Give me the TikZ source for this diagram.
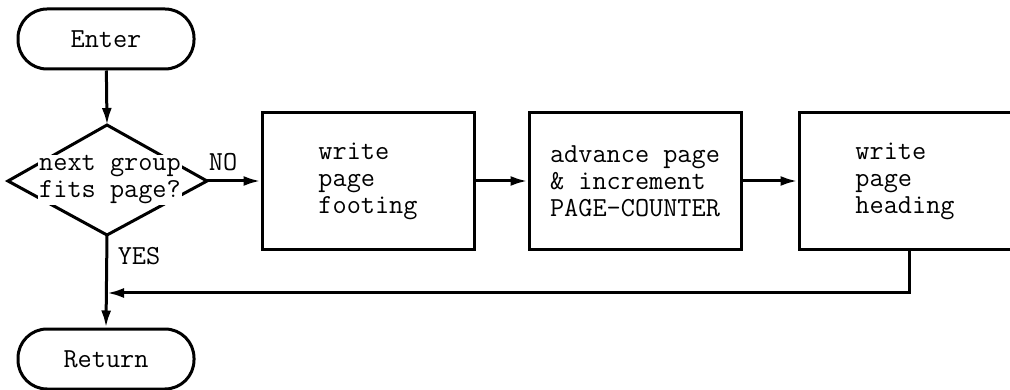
\documentclass[tikz,border=0pt]{standalone}
\usetikzlibrary{arrows.meta}

\tikzset{
  flow/.style={line width=3pt, -{Latex[length=17pt,width=10pt]}},
  terminal/.style={draw, line width=3pt, rounded corners=29pt,
    minimum width=176pt, minimum height=60pt, inner sep=0pt},
  decision/.style={line width=3pt, line join=miter},
  dtext/.style={fill=white, inner sep=1pt, align=center},
  procbox/.style={draw, rectangle, line width=3pt, minimum width=212pt,
    minimum height=137pt, align=left, inner sep=0pt},
  lbl/.style={inner sep=0pt}
}

\begin{document}
\begin{tikzpicture}[x=1pt, y=-1pt,
  every node/.append style={font=\ttfamily\fontsize{27.5}{27}\selectfont}]
  \clip (0,0) rectangle (1010,390);
  \fill[white] (0,0) rectangle (1010,390);

  \node[terminal] (enter) at (106,39) {Enter};

  % decision diamond, drawn as a polygon with its text laid over it
  \coordinate (dtop) at (107,125);
  \coordinate (dright) at (207,181);
  \coordinate (dbottom) at (107,235);
  \coordinate (dleft) at (8,181);
  \draw[decision] (dtop) -- (dright) -- (dbottom) -- (dleft) -- cycle;
  \node[dtext] (fits) at (110,180) {next group\\fits page?};

  \node[procbox] (footing) at (368,181) {write\\page\\footing};
  \node[procbox] (advance) at (635,181) {advance page\\\& increment\\PAGE-COUNTER};
  \node[procbox] (heading) at (905,181) {write\\page\\heading};
  \node[terminal] (return) at (106,359) {Return};

  \node[lbl] (no) at (223,162) {NO};
  \node[lbl] (yes) at (139,256) {YES};

  \coordinate (join) at (107,293);

  \draw[flow] (enter) -- (dtop);
  \draw[flow] (dright) -- (footing.west |- dright);
  \draw[flow] (footing.east) -- (advance.west);
  \draw[flow] (advance.east) -- (heading.west);
  \draw[flow] ([xshift=4pt]heading.south) |- (join);
  \draw[flow] (dbottom) -- (return.north);
\end{tikzpicture}
\end{document}
